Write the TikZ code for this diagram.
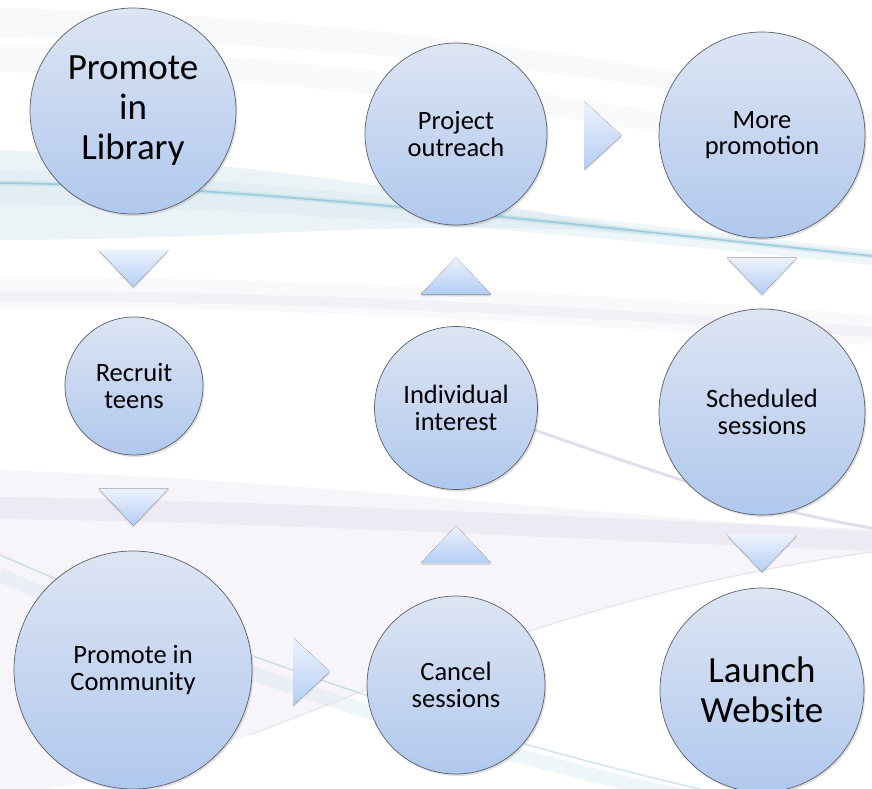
\documentclass[tikz,border=0pt]{standalone}
\usepackage{fontspec}
\setmainfont{Carlito}
\usetikzlibrary{shadows,calc}
\definecolor{cTop}{HTML}{DDE5F3}
\definecolor{cBot}{HTML}{B0C8EE}
\definecolor{tTop}{HTML}{ECF2FD}
\definecolor{tBot}{HTML}{B4CEF5}
\definecolor{cyanL}{HTML}{8CC4D8}
\definecolor{cyanH}{HTML}{D3E6EE}
\definecolor{lav}{HTML}{B3A2C9}
\definecolor{haze}{HTML}{E4E8EE}
\definecolor{edgec}{HTML}{5C6068}
\newcommand\chevdown[1]{\fill[tri] ($(#1)+(-35,-18.5)$) -- ($(#1)+(35,-18.5)$) -- ($(#1)+(0,18.5)$) -- cycle;}
\newcommand\chevup[1]{\fill[tri] ($(#1)+(-35,18.5)$) -- ($(#1)+(35,18.5)$) -- ($(#1)+(0,-18.5)$) -- cycle;}
\newcommand\chevright[1]{\fill[tri] ($(#1)+(-18.5,-34)$) -- ($(#1)+(18.5,0)$) -- ($(#1)+(-18.5,34)$) -- cycle;}
\begin{document}
\begin{tikzpicture}[x=1pt,y=-1pt,
  bubble/.style={circle, draw=edgec, line width=0.7pt, top color=cTop, bottom color=cBot,
    align=center, inner sep=0pt, text=black,
    drop shadow={opacity=0.25, shadow xshift=1.5pt, shadow yshift=-2pt}},
  big/.style={font=\fontsize{37}{40}\selectfont},
  small/.style={font=\fontsize{26.5}{26.5}\selectfont},
  tri/.style={top color=tTop, bottom color=tBot,
    drop shadow={opacity=0.25, shadow xshift=0pt, shadow yshift=-2pt}},
]
\fill[white] (0,0) rectangle (872,789);
\useasboundingbox (0,0) rectangle (872,789);
% ---- background swooshes ----
\begin{scope}
\clip (0,0) rectangle (872,789);
\fill[haze, opacity=0.25] (0,8) .. controls (300,15) and (600,50) .. (872,110) -- (872,125) .. controls (600,70) and (300,40) .. (0,38) -- cycle;
\fill[haze, opacity=0.2] (0,45) .. controls (250,50) and (500,80) .. (872,150) -- (872,170) .. controls (500,100) and (250,75) .. (0,72) -- cycle;
\fill[cyanH, opacity=0.45] (0,150) .. controls (250,160) and (450,195) .. (650,232) -- (650,236) .. controls (450,215) and (250,240) .. (0,240) -- cycle;
\fill[cyanH, opacity=0.35] (0,170) .. controls (250,175) and (550,215) .. (872,250) -- (872,265) .. controls (550,232) and (250,205) .. (0,205) -- cycle;
\draw[cyanL, line width=5pt, opacity=0.25] (0,183) .. controls (250,186) and (550,222) .. (872,256);
\draw[cyanL, line width=1.6pt, opacity=0.75] (0,183) .. controls (250,186) and (550,222) .. (872,256);
\draw[lav, line width=30pt, opacity=0.07] (0,292) .. controls (300,292) and (600,310) .. (872,330);
\draw[lav, line width=10pt, opacity=0.08] (0,296) .. controls (300,296) and (600,312) .. (872,332);
\fill[lav, opacity=0.10] (0,470) .. controls (300,480) and (600,515) .. (872,532) -- (872,552) .. controls (600,590) and (420,670) .. (250,735) .. controls (150,770) and (60,789) .. (0,795) -- cycle;
\draw[lav, line width=22pt, opacity=0.12] (0,508) .. controls (300,512) and (600,530) .. (872,540);
\draw[lav, line width=3pt, opacity=0.35] (520,425) .. controls (650,470) and (760,510) .. (872,528);
\draw[lav, line width=1.2pt, opacity=0.25] (250,735) .. controls (420,670) and (600,590) .. (872,552);
\draw[cyanL, line width=1.4pt, opacity=0.45] (0,555) .. controls (150,620) and (400,720) .. (700,789);
\draw[cyanH, line width=14pt, opacity=0.35] (0,575) .. controls (150,640) and (400,735) .. (700,800);
\end{scope}
% ---- nodes ----
\node[bubble, big, minimum size=206pt] (lib) at (133,111) {Promote\\in\\Library};
\node[bubble, small, minimum size=182pt] (out) at (456,134) {Project\\outreach};
\node[bubble, small, minimum size=206pt] (more) at (762,135) {More\\promotion};
\node[bubble, small, minimum size=138pt] (rec) at (134,386) {Recruit\\teens};
\node[bubble, small, minimum size=163pt] (ind) at (456,408) {Individual\\interest};
\node[bubble, small, minimum size=206pt] (sch) at (762,412) {Scheduled\\sessions};
\node[bubble, small, minimum size=238pt] (com) at (133,670) {Promote in\\Community};
\node[bubble, small, minimum size=178pt] (can) at (456,685) {Cancel\\sessions};
\node[bubble, big, minimum size=204pt] (web) at (762,690) {Launch\\Website};
% ---- chevrons ----
\coordinate (m1) at ($(lib.south)!0.5!(rec.north)+(0,3)$);
\coordinate (m2) at ($(rec.south)!0.5!(com.north)+(0,4)$);
\coordinate (m3) at ($(com.east)!0.5!(can.west)+(2,-6)$);
\coordinate (m4) at ($(can.north)!0.5!(ind.south)+(0,1.5)$);
\coordinate (m5) at ($(ind.north)!0.5!(out.south)$);
\coordinate (m6) at ($(out.east)!0.5!(more.west)+(0,1)$);
\coordinate (m7) at ($(more.south)!0.5!(sch.north)+(0,2.5)$);
\coordinate (m8) at ($(sch.south)!0.5!(web.north)+(0,2)$);
\chevdown{m1}
\chevdown{m2}
\chevright{m3}
\chevup{m4}
\chevup{m5}
\chevright{m6}
\chevdown{m7}
\chevdown{m8}
\end{tikzpicture}
\end{document}
